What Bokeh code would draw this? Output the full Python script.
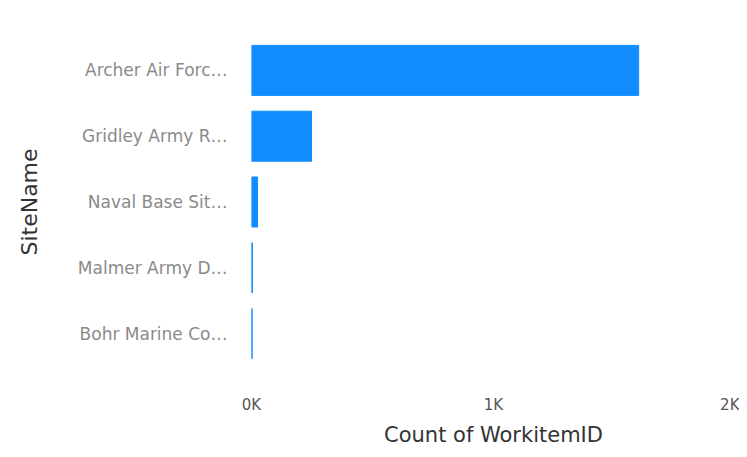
from bokeh.plotting import figure
from bokeh.models import FixedTicker, CustomJSTickFormatter, FactorRange, Range1d
from bokeh.embed import file_html
from bokeh.resources import INLINE

sites = ["Archer Air Forc…", "Gridley Army R…", "Naval Base Sit…", "Malmer Army D…", "Bohr Marine Co…"]
counts = [1600, 248, 25, 4, 3]
tick_values = [0, 1000, 2000]
tick_labels = ["0K", "1K", "2K"]

p = figure(width=739, height=449, output_backend="svg", toolbar_location=None,
           y_range=FactorRange(factors=list(reversed(sites)), range_padding=0),
           x_range=Range1d(0, 2000),
           min_border_left=251, min_border_right=4, min_border_top=37, min_border_bottom=83)

p.hbar(y=sites, right=counts, left=0, height=0.76, color="#118DFF")

p.outline_line_color = None
p.background_fill_color = "white"
p.border_fill_color = "white"
p.xgrid.visible = False
p.ygrid.visible = False

xa = p.xaxis[0]
xa.ticker = FixedTicker(ticks=tick_values)
xa.formatter = CustomJSTickFormatter(args=dict(v=tick_values, l=tick_labels),
                                     code="return l[v.indexOf(tick)];")
xa.axis_line_color = None
xa.major_tick_line_color = None
xa.minor_tick_line_color = None
xa.major_label_standoff = 23
xa.major_label_text_font = "DejaVu Sans"
xa.major_label_text_font_size = "15px"
xa.major_label_text_color = "#555555"
xa.axis_label = "Count of WorkitemID"
xa.axis_label_text_font = "DejaVu Sans"
xa.axis_label_text_font_style = "normal"
xa.axis_label_text_font_size = "21px"
xa.axis_label_text_color = "#333333"
xa.axis_label_standoff = 6

ya = p.yaxis[0]
ya.axis_line_color = None
ya.major_tick_line_color = None
ya.minor_tick_line_color = None
ya.major_label_standoff = 18
ya.major_label_text_font = "DejaVu Sans"
ya.major_label_text_font_size = "17px"
ya.major_label_text_color = "#8a8a8a"
ya.axis_label = "SiteName"
ya.axis_label_text_font = "DejaVu Sans"
ya.axis_label_text_font_style = "normal"
ya.axis_label_text_font_size = "22px"
ya.axis_label_text_color = "#333333"
ya.axis_label_standoff = 33

open("out.html", "w").write(file_html(p, INLINE))
